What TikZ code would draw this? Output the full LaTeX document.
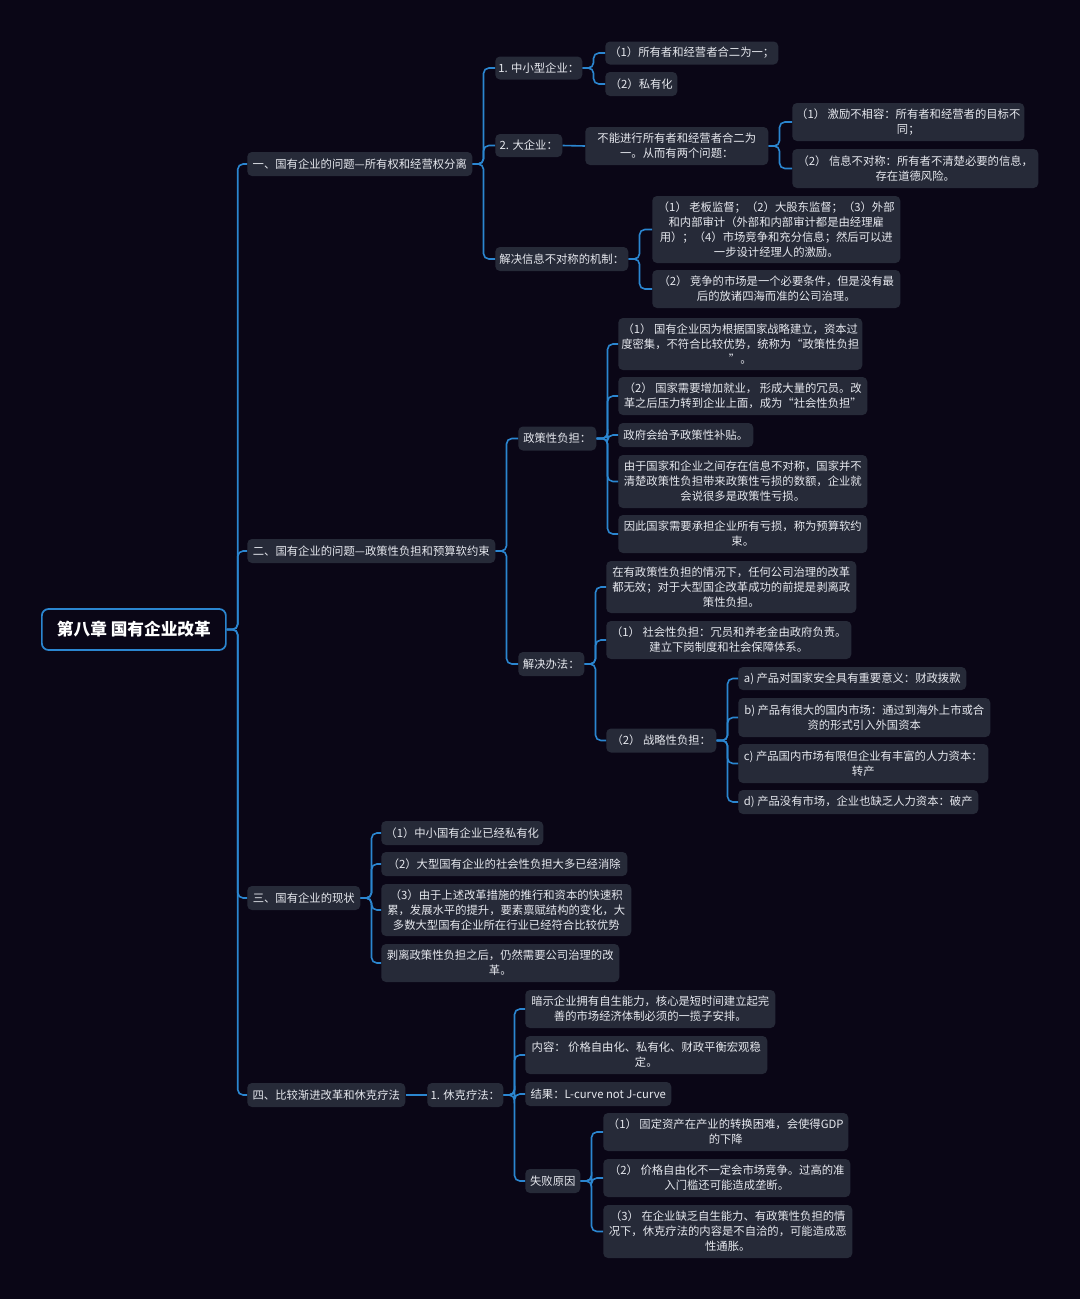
\documentclass[tikz,border=0pt]{standalone}
\usepackage{fontspec}
\setmainfont{Noto Sans CJK SC}
\definecolor{bgc}{HTML}{0A0616}
\definecolor{boxc}{HTML}{262A38}
\definecolor{linec}{HTML}{2B86D0}
\definecolor{txtc}{HTML}{E6E8EE}
\tikzset{
  box/.style={fill=boxc, rounded corners=3.5pt, text=txtc, align=center, inner sep=0pt, anchor=west,
    font=\fontsize{8.5}{11.3}\selectfont},
  wh/.style 2 args={minimum width=#1*0.75pt, minimum height=#2*0.75pt},
  conn/.style={draw=linec, line width=1.2pt, rounded corners=4pt},
}
\newcommand\mmlink[2]{\draw[conn] (#1.east) -- ++(11,0) |- (#2.west);}
\begin{document}
\begin{tikzpicture}[x=0.75pt,y=-0.75pt]
\path[fill=bgc] (0,0) rectangle (1080,1299);
\useasboundingbox (0,0) rectangle (1080,1299);

% root
\node[draw=linec, line width=1.3pt, fill=bgc, rounded corners=5pt, text=white, anchor=west, inner sep=0pt,
  wh={184}{41}, font=\fontsize{12.5}{15}\selectfont\bfseries] (root) at (41,629.5) {第八章 国有企业改革};

% level 1
\node[box, wh={225}{24}] (A) at (247,164) {一、国有企业的问题—所有权和经营权分离};
\node[box, wh={248}{24}] (B) at (247,551) {二、国有企业的问题—政策性负担和预算软约束};
\node[box, wh={113}{24}] (C) at (247,898) {三、国有企业的现状};
\node[box, wh={158}{24}] (D) at (247,1095) {四、比较渐进改革和休克疗法};

% A branch
\node[box, wh={87}{23}] (A1) at (495,68) {1. 中小型企业：};
\node[box, wh={67}{23}] (A2) at (495,145.5) {2. 大企业：};
\node[box, wh={133}{24}] (A3) at (495,259) {解决信息不对称的机制：};

\node[box, wh={173}{23}] (A11) at (605,53) {（1）所有者和经营者合二为一；};
\node[box, wh={72}{24}] (A12) at (605,84) {（2）私有化};

\node[box, wh={183}{38}] (A2x) at (585,146) {不能进行所有者和经营者合二为\\一。从而有两个问题：};
\node[box, wh={232}{38}] (A21) at (792,122) {（1） 激励不相容：所有者和经营者的目标不\\同；};
\node[box, wh={246}{39}] (A22) at (792,168.5) {（2） 信息不对称：所有者不清楚必要的信息，\\存在道德风险。};

\node[box, wh={248}{67}] (A31) at (652,229.5) {（1） 老板监督；（2）大股东监督；（3）外部\\和内部审计（外部和内部审计都是由经理雇\\用）；（4）市场竞争和充分信息；然后可以进\\一步设计经理人的激励。};
\node[box, wh={248}{38}] (A32) at (652,289) {（2） 竞争的市场是一个必要条件，但是没有最\\后的放诸四海而准的公司治理。};

% B branch
\node[box, wh={78}{24}] (B1) at (518,438.5) {政策性负担：};
\node[box, wh={66}{24}] (B2) at (518,664) {解决办法：};

\node[box, wh={244}{52}] (B11) at (618,344) {（1） 国有企业因为根据国家战略建立，资本过\\度密集，不符合比较优势，统称为“政策性负担\\”。};
\node[box, wh={249}{38}] (B12) at (618,396) {（2） 国家需要增加就业， 形成大量的冗员。改\\革之后压力转到企业上面，成为“社会性负担”};
\node[box, wh={135}{24}] (B13) at (618,435) {政府会给予政策性补贴。};
\node[box, wh={249}{53}] (B14) at (618,481.5) {由于国家和企业之间存在信息不对称，国家并不\\清楚政策性负担带来政策性亏损的数额，企业就\\会说很多是政策性亏损。};
\node[box, wh={249}{38}] (B15) at (618,534) {因此国家需要承担企业所有亏损，称为预算软约\\束。};

\node[box, wh={250}{52}] (B21) at (606,587) {在有政策性负担的情况下，任何公司治理的改革\\都无效；对于大型国企改革成功的前提是剥离政\\策性负担。};
\node[box, wh={245}{38}] (B22) at (606,640) {（1） 社会性负担：冗员和养老金由政府负责。\\建立下岗制度和社会保障体系。};
\node[box, wh={110}{24}] (B23) at (606,740.5) {（2） 战略性负担：};

\node[box, wh={228}{23}] (B231) at (738,678.5) {a) 产品对国家安全具有重要意义：财政拨款};
\node[box, wh={252}{39}] (B232) at (738,717.5) {b) 产品有很大的国内市场：通过到海外上市或合\\资的形式引入外国资本};
\node[box, wh={250}{39}] (B233) at (738,763.5) {c) 产品国内市场有限但企业有丰富的人力资本：\\转产};
\node[box, wh={240}{24}] (B234) at (738,802) {d) 产品没有市场，企业也缺乏人力资本：破产};

% C branch
\node[box, wh={162}{24}] (C1) at (381,833) {（1）中小国有企业已经私有化};
\node[box, wh={246}{24}] (C2) at (381,864) {（2）大型国有企业的社会性负担大多已经消除};
\node[box, wh={250}{52}] (C3) at (381,910) {（3）由于上述改革措施的推行和资本的快速积\\累，发展水平的提升，要素禀赋结构的变化，大\\多数大型国有企业所在行业已经符合比较优势};
\node[box, wh={238}{38}] (C4) at (381,963) {剥离政策性负担之后，仍然需要公司治理的改\\革。};

% D branch
\node[box, wh={76}{24}] (D1) at (427,1095) {1. 休克疗法：};
\node[box, wh={250}{38}] (D11) at (525,1009) {暗示企业拥有自生能力，核心是短时间建立起完\\善的市场经济体制必须的一揽子安排。};
\node[box, wh={242}{38}] (D12) at (525,1055) {内容： 价格自由化、私有化、财政平衡宏观稳\\定。};
\node[box, wh={146}{24}] (D13) at (525,1094) {结果：L-curve not J-curve};
\node[box, wh={55}{24}] (D14) at (525,1181) {失败原因};

\node[box, wh={245}{38}] (D141) at (603,1132) {（1） 固定资产在产业的转换困难，会使得GDP\\的下降};
\node[box, wh={247}{38}] (D142) at (603,1178) {（2） 价格自由化不一定会市场竞争。过高的准\\入门槛还可能造成垄断。};
\node[box, wh={249}{53}] (D143) at (603,1231.5) {（3） 在企业缺乏自生能力、有政策性负担的情\\况下，休克疗法的内容是不自洽的，可能造成恶\\性通胀。};

% connectors
\mmlink{root}{A}\mmlink{root}{B}\mmlink{root}{C}\mmlink{root}{D}
\mmlink{A}{A1}\mmlink{A}{A2}\mmlink{A}{A3}
\mmlink{A1}{A11}\mmlink{A1}{A12}
\draw[conn] (A2.east) -- (A2x.west);
\mmlink{A2x}{A21}\mmlink{A2x}{A22}
\mmlink{A3}{A31}\mmlink{A3}{A32}
\mmlink{B}{B1}\mmlink{B}{B2}
\mmlink{B1}{B11}\mmlink{B1}{B12}\mmlink{B1}{B13}\mmlink{B1}{B14}\mmlink{B1}{B15}
\mmlink{B2}{B21}\mmlink{B2}{B22}\mmlink{B2}{B23}
\mmlink{B23}{B231}\mmlink{B23}{B232}\mmlink{B23}{B233}\mmlink{B23}{B234}
\mmlink{C}{C1}\mmlink{C}{C2}\mmlink{C}{C3}\mmlink{C}{C4}
\draw[conn] (D.east) -- (D1.west);
\mmlink{D1}{D11}\mmlink{D1}{D12}\mmlink{D1}{D13}\mmlink{D1}{D14}
\mmlink{D14}{D141}\mmlink{D14}{D142}\mmlink{D14}{D143}
\end{tikzpicture}
\end{document}
